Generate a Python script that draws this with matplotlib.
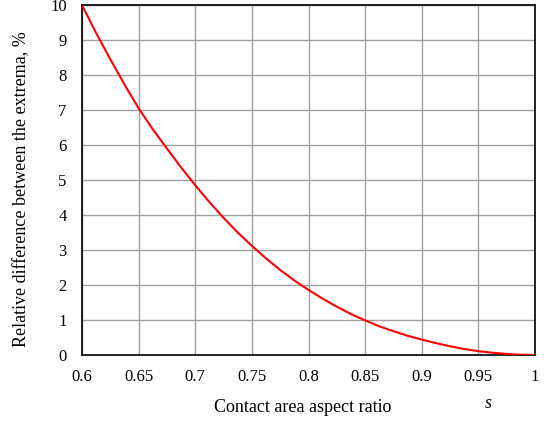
import matplotlib
matplotlib.use("Agg")
import matplotlib.pyplot as plt

s_vals = [0.6, 0.6125, 0.625, 0.6375, 0.65, 0.6625, 0.675, 0.6875, 0.7, 0.7125, 0.725, 0.7375,
          0.75, 0.7625, 0.775, 0.7875, 0.8, 0.8125, 0.825, 0.8375, 0.85, 0.8625, 0.875, 0.8875,
          0.9, 0.9125, 0.925, 0.9375, 0.95, 0.9625, 0.975, 0.9875, 1.0]
diff_vals = [10.0, 9.2, 8.45, 7.73, 7.05, 6.45, 5.9, 5.36, 4.85, 4.37, 3.92, 3.5,
             3.12, 2.76, 2.43, 2.13, 1.86, 1.61, 1.38, 1.17, 0.99, 0.82, 0.68, 0.55,
             0.44, 0.34, 0.25, 0.17, 0.11, 0.065, 0.03, 0.008, 0.0]

x_ticks = [0.6, 0.65, 0.7, 0.75, 0.8, 0.85, 0.9, 0.95, 1.0]
x_tick_labels = ["0.6", "0.65", "0.7", "0.75", "0.8", "0.85", "0.9", "0.95", "1"]
y_ticks = list(range(0, 11))

plt.rcParams['font.family'] = ['Liberation Serif', 'DejaVu Serif']

fig = plt.figure(figsize=(5.47, 4.25), dpi=100)
ax = fig.add_axes([82/547, 70/425, 453/547, 350/425])
ax.plot(s_vals, diff_vals, color='#ff0000', lw=1.5, zorder=3)
ax.set_xlim(0.6, 1.0)
ax.set_ylim(0, 10)
ax.set_xticks(x_ticks)
ax.set_xticklabels(x_tick_labels)
ax.set_yticks(y_ticks)
ax.grid(True, color='#a0a0a0', lw=1)
ax.tick_params(length=0, labelsize=12)
ax.tick_params(axis='x', pad=10)
ax.tick_params(axis='y', pad=11)
for sp in ax.spines.values():
    sp.set_color('black')
    sp.set_linewidth(1.2)
fig.text(303/547, 1 - 408/425, "Contact area aspect ratio", ha='center', va='center', fontsize=13)
fig.text(488/547, 1 - 404/425, "s", ha='center', va='center', fontsize=13, style='italic')
fig.text(22/547, 1 - 189/425, "Relative difference between the extrema, %", ha='center', va='center', rotation=90, fontsize=13)
fig.savefig("out.png", dpi=100)
